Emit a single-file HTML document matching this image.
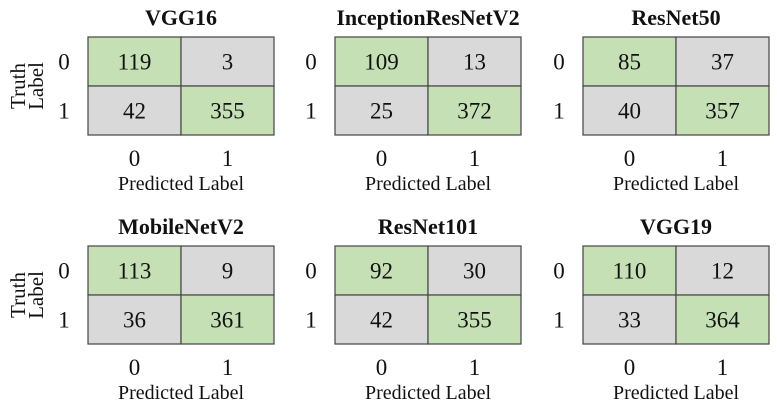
<!DOCTYPE html>
<html><head><meta charset="utf-8"><style>
body{margin:0;background:#fff;width:777px;height:406px;overflow:hidden;font-family:"Liberation Serif",serif;}
svg text{font-family:"Liberation Serif",serif;fill:#111;}
</style></head><body>
<svg id="c" width="777" height="406"></svg>
<script>
const models=["VGG16","InceptionResNetV2","ResNet50","MobileNetV2","ResNet101","VGG19"];
const tn=[119,109,85,113,92,110];
const fp=[3,13,37,9,30,12];
const fn=[42,25,40,36,42,33];
const tp=[355,372,357,361,355,364];
const classLabels=["0","1"];
const svg=document.getElementById('c');
const NS='http://www.w3.org/2000/svg';
function mk(t,a,p){const e=document.createElementNS(NS,t);for(const k in a)e.setAttribute(k,a[k]);(p||svg).appendChild(e);return e;}
const gx=[88,335,583], gy=[37,246], W=186, H=98;
models.forEach((m,i)=>{
  const x0=gx[i%3], y0=gy[Math.floor(i/3)];
  const g=mk('g',{});
  
  
  const t=mk('text',{x:x0+W/2,y:y0-12,'text-anchor':'middle','font-size':22,'font-weight':'bold'},g);
  t.textContent=m;
  
  
  const vals=[[tn[i],fp[i]],[fn[i],tp[i]]];
  for(let r=0;r<2;r++)for(let c=0;c<2;c++){
    const rc=mk('rect',{x:x0+c*W/2,y:y0+r*H/2,width:W/2,height:H/2,fill:r==c?'#c5e0b4':'#d9d9d9',stroke:'#444','stroke-width':1.2},g);
    
    
    const v=mk('text',{x:x0+c*W/2+W/4,y:y0+r*H/2+H/4+8,'text-anchor':'middle','font-size':23},g);
    v.textContent=vals[r][c];
    
    
  }
  classLabels.forEach((l,k)=>{
    const rl=mk('text',{x:x0-24,y:y0+k*H/2+H/4+8,'text-anchor':'middle','font-size':23},g);
    rl.textContent=l;
    
    
    const cl=mk('text',{x:x0+k*W/2+W/4,y:y0+H+31,'text-anchor':'middle','font-size':23},g);
    cl.textContent=l;
    
    
  });
  const xl=mk('text',{x:x0+W/2,y:y0+H+55,'text-anchor':'middle','font-size':20},g);
  xl.textContent='Predicted Label';
  
  
  if(i%3==0){
    const cy=y0+H/2;
    const a=mk('text',{x:0,y:0,'text-anchor':'middle','font-size':21,transform:`translate(25,${cy}) rotate(-90)`},g);
    a.textContent='Truth';
    
    
    const b=mk('text',{x:0,y:0,'text-anchor':'middle','font-size':21,transform:`translate(43,${cy}) rotate(-90)`},g);
    b.textContent='Label';
    
    
  }
});
</script>
</body></html>
